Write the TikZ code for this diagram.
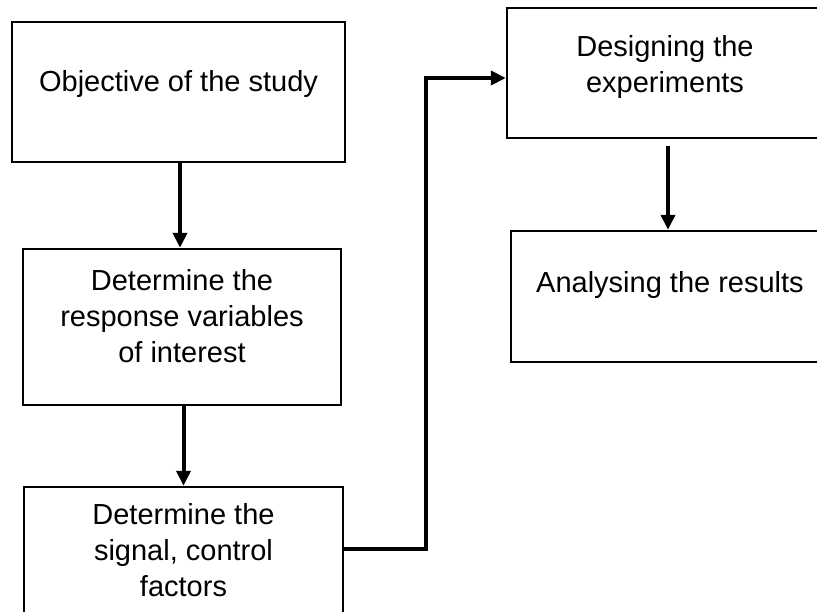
\documentclass[tikz,border=0pt]{standalone}
\usepackage{fontspec}
\setmainfont{Liberation Sans}
\usetikzlibrary{arrows.meta}

\begin{document}
\begin{tikzpicture}[x=1pt,y=-1pt,
  stepbox/.style={draw=black, line width=2.4pt, rectangle, inner sep=0pt},
  boxtext/.style={align=center, font=\fontsize{29}{36}\selectfont},
  flow/.style={draw=black, line width=4pt, -{Triangle[length=15pt,width=14pt]}}]
  \useasboundingbox (0,0) rectangle (817,612);
  \clip (0,0) rectangle (817,612);

  % process boxes (text sits a little above each box centre)
  \node[stepbox, minimum width=333pt, minimum height=140pt,
        label={[boxtext, yshift=8pt]center:Objective of the study}] (b1) at (178.5,92) {};
  \node[stepbox, minimum width=318pt, minimum height=156pt,
        label={[boxtext, yshift=11pt]center:Determine the\\response variables\\of interest}] (b2) at (182,327) {};
  \node[stepbox, minimum width=319pt, minimum height=152pt,
        label={[boxtext, yshift=12.5pt]center:Determine the\\signal, control\\factors}] (b3) at (183.5,563) {};
  \node[stepbox, minimum width=316pt, minimum height=130pt,
        label={[boxtext, yshift=6pt]center:Designing the\\experiments}] (b4) at (665,73) {};
  \node[stepbox, minimum width=318pt, minimum height=131pt,
        label={[boxtext, yshift=11pt]center:Analysing the results}] (b5) at (670,296.5) {};

  % connectors
  \draw[flow] ([xshift=1.5pt]b1.south) -- ([xshift=1.5pt]b1.south |- b2.north);
  \draw[flow] (b2.south -| b3.north) -- (b3.north);
  \draw[flow, shorten <=7pt] ([xshift=3pt]b4.south) -- ([xshift=3pt]b4.south |- b5.north);

  \coordinate (turnlow) at (426,549);
  \coordinate (turnhigh) at (426,78);
  \draw[flow] (b3.east |- turnlow) -- (turnlow) -- (turnhigh) -- (b4.west |- turnhigh);
\end{tikzpicture}
\end{document}
